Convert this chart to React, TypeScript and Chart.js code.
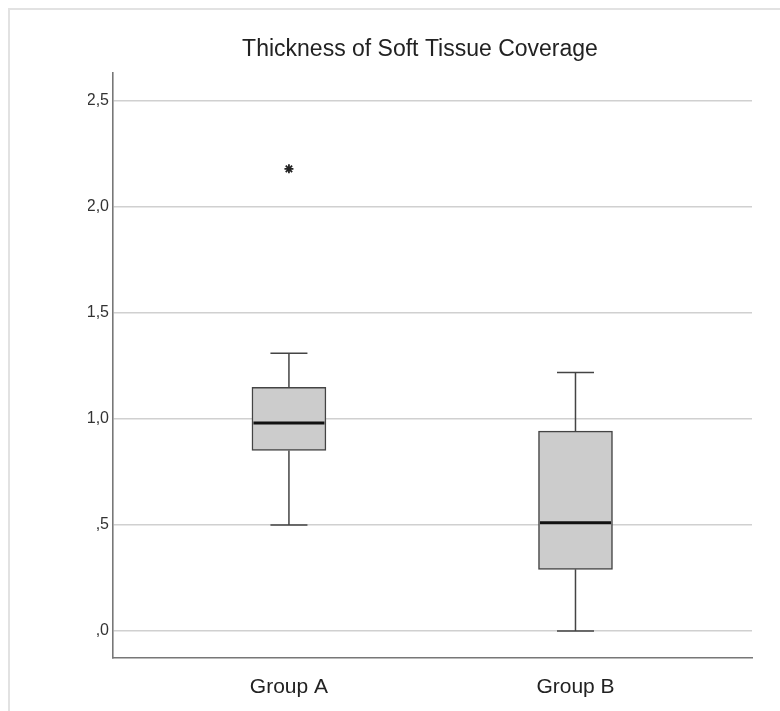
import React, { useEffect, useRef } from "react";
import { Chart, registerables } from "chart.js";

Chart.register(...registerables);

// ---- data ----
const categories = ["Group A", "Group B"];
const categoryPositions = [1, 2];
const whiskerLow = [0.5, 0.0];
const q1 = [0.852, 0.291];
const medians = [0.981, 0.511];
const q3 = [1.15, 0.943];
const whiskerHigh = [1.31, 1.22];
const outlierCategory = [1];
const outlierValues = [2.18];
const yTicks = [0, 0.5, 1.0, 1.5, 2.0, 2.5];
const yTickLabels = [",0", ",5", "1,0", "1,5", "2,0", "2,5"];
const titleText = "Thickness of Soft Tissue Coverage";

const FONT = "'Liberation Sans', Arial, Helvetica, sans-serif";
const BOX_W = 74;

const boxPlugin = {
  id: "boxWhiskers",
  afterDatasetsDraw(chart: any) {
    const { ctx } = chart;
    const xs = chart.scales.x;
    const ys = chart.scales.y;
    ctx.save();
    categoryPositions.forEach((pos, i) => {
      const cx = xs.getPixelForValue(pos);
      const yLow = ys.getPixelForValue(whiskerLow[i]);
      const yQ1 = ys.getPixelForValue(q1[i]);
      const yQ3 = ys.getPixelForValue(q3[i]);
      const yHigh = ys.getPixelForValue(whiskerHigh[i]);
      const yMed = ys.getPixelForValue(medians[i]);
      const half = BOX_W / 2;
      const cap = BOX_W / 4;
      ctx.strokeStyle = "#444444";
      ctx.lineWidth = 1.5;
      ctx.beginPath();
      ctx.moveTo(cx, yQ3);
      ctx.lineTo(cx, yHigh);
      ctx.moveTo(cx - cap, yHigh);
      ctx.lineTo(cx + cap, yHigh);
      ctx.moveTo(cx, yQ1);
      ctx.lineTo(cx, yLow);
      ctx.moveTo(cx - cap, yLow);
      ctx.lineTo(cx + cap, yLow);
      ctx.stroke();
      ctx.strokeStyle = "#111111";
      ctx.lineWidth = 3;
      ctx.beginPath();
      ctx.moveTo(cx - half + 1.5, yMed);
      ctx.lineTo(cx + half - 1.5, yMed);
      ctx.stroke();
    });
    ctx.restore();
  },
};

export default function App() {
  const ref = useRef<HTMLCanvasElement | null>(null);
  useEffect(() => {
    if (!ref.current) return;
    const chart = new Chart(ref.current, {
      type: "bar",
      data: {
        datasets: [
          {
            type: "bar",
            data: categoryPositions.map((p, i) => ({ x: p, y: [q1[i], q3[i]] })) as any,
            backgroundColor: "#cccccc",
            borderColor: "#444444",
            borderWidth: 1.5,
            borderSkipped: false,
            barThickness: BOX_W,
          } as any,
          {
            type: "scatter",
            data: outlierCategory.map((p, i) => ({ x: p, y: outlierValues[i] })),
            pointStyle: "star",
            radius: 4.5,
            borderWidth: 1.8,
            borderColor: "#222222",
            backgroundColor: "#222222",
          } as any,
        ],
      },
      options: {
        animation: false,
        responsive: false,
        events: [],
        layout: { padding: { left: 78, right: 28, top: 0, bottom: 0 } },
        plugins: {
          legend: { display: false },
          tooltip: { enabled: false },
          title: {
            display: true,
            text: titleText,
            color: "#222222",
            font: { family: FONT, size: 23, weight: "normal" },
            padding: { top: 26.2, bottom: 9.2 },
          },
        },
        scales: {
          x: {
            type: "linear",
            min: 0.386,
            max: 2.616,
            offset: false,
            afterBuildTicks: (s: any) => {
              s.ticks = categoryPositions.map((v) => ({ value: v }));
            },
            afterFit: (s: any) => {
              s.height = 53;
            },
            ticks: {
              color: "#222222",
              font: { family: FONT, size: 21 },
              padding: 17,
              maxRotation: 0,
              autoSkip: false,
              callback: (v: any) => {
                const idx = categoryPositions.indexOf(Number(v));
                return idx >= 0 ? categories[idx] : "";
              },
            },
            grid: { display: false, drawTicks: false },
            border: { display: true, color: "#777777", width: 1.6 },
          },
          y: {
            type: "linear",
            min: -0.127,
            max: 2.632,
            afterBuildTicks: (s: any) => {
              s.ticks = yTicks.map((v) => ({ value: v }));
            },
            afterFit: (s: any) => {
              s.width = 25;
            },
            ticks: {
              color: "#333333",
              font: { family: FONT, size: 16 },
              padding: 4,
              autoSkip: false,
              callback: (v: any) => {
                const idx = yTicks.indexOf(Number(v));
                return idx >= 0 ? yTickLabels[idx] : "";
              },
            },
            grid: { color: "#d0d0d0", lineWidth: 1.5, drawTicks: false },
            border: { display: true, color: "#777777", width: 1.6 },
          },
        },
      } as any,
      plugins: [boxPlugin],
    });
    return () => chart.destroy();
  }, []);

  return (
    <div
      style={{
        position: "fixed",
        left: 8,
        top: 8,
        width: 772,
        height: 703,
        borderTop: "2px solid #e2e2e2",
        borderLeft: "2px solid #e2e2e2",
        boxSizing: "border-box",
        background: "#ffffff",
      }}
    >
      <canvas ref={ref} width={770} height={701} style={{ display: "block" }} />
    </div>
  );
}
